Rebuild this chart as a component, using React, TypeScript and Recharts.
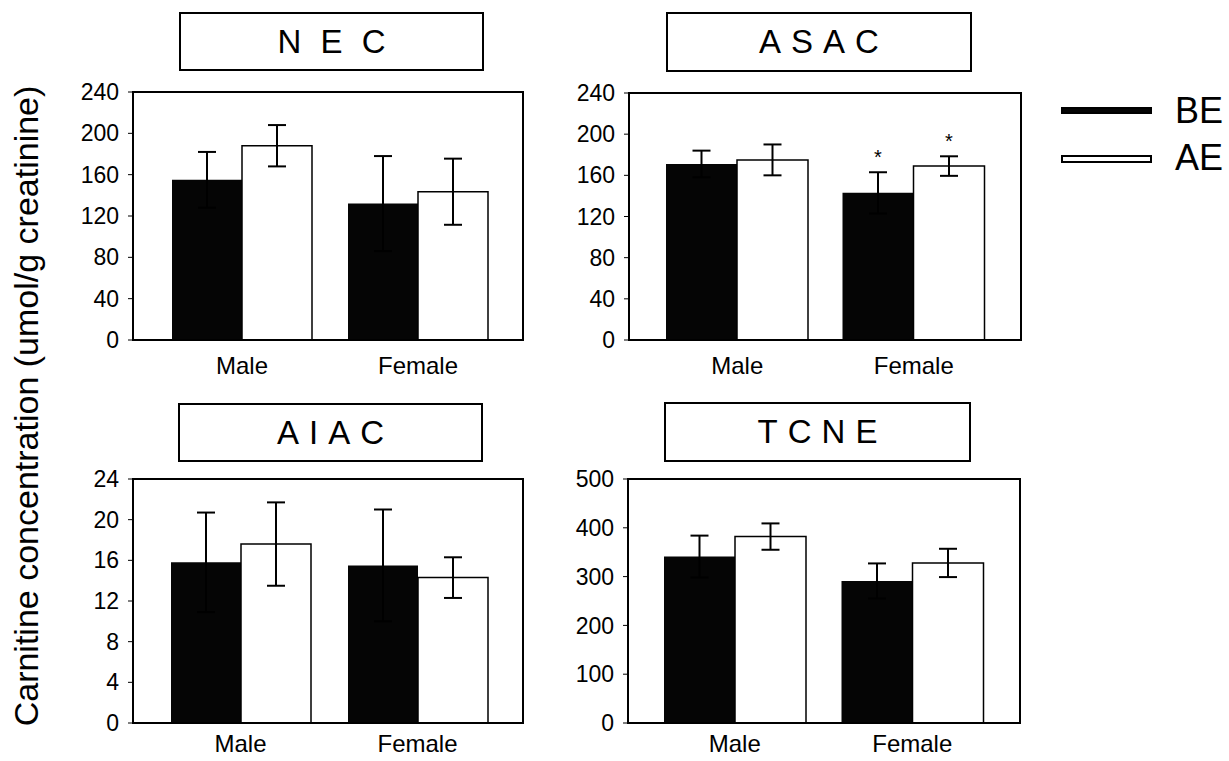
import { Bar, BarChart, ErrorBar, XAxis, YAxis } from "recharts";

const categories = ["Male", "Female"];
const seriesNames = ["BE", "AE"];
const yLabel = "Carnitine concentration (umol/g creatinine)";

// NEC
const necBE = [155, 132];
const necBEErr = [27, 46];
const necAE = [188, 143.5];
const necAEErr = [20, 32];

// ASAC
const asacBE = [171, 143];
const asacBEErr = [13, 20];
const asacAE = [175, 169];
const asacAEErr = [15, 9.5];
const asacStarBE = ["", "*"];
const asacStarAE = ["", "*"];

// AIAC
const aiacBE = [15.8, 15.5];
const aiacBEErr = [4.9, 5.5];
const aiacAE = [17.6, 14.3];
const aiacAEErr = [4.1, 2];

// TCNE
const tcneBE = [341, 291];
const tcneBEErr = [43, 36];
const tcneAE = [382, 328];
const tcneAEErr = [27, 29];

const ticks240 = [0, 40, 80, 120, 160, 200, 240];
const ticks24 = [0, 4, 8, 12, 16, 20, 24];
const ticks500 = [0, 100, 200, 300, 400, 500];

const FONT = "'Liberation Sans', Arial, Helvetica, sans-serif";

type PanelProps = {
  title: string;
  spacing: number;
  be: number[];
  beErr: number[];
  ae: number[];
  aeErr: number[];
  starBE?: string[];
  starAE?: string[];
  ticks: number[];
  box: [number, number, number, number];
  titleBox: [number, number, number, number];
  padL: number;
  padR: number;
  barSize: number;
  xMargin: number;
};

function starLabel(flags: string[] | undefined, errs: number[]) {
  return (props: any) => {
    const { x, y, width, height, value, index } = props;
    if (!flags || !flags[index]) return null;
    const errPx = (errs[index] * height) / value;
    return (
      <text
        x={x + width / 2}
        y={y - errPx - 8}
        textAnchor="middle"
        fontSize={20}
        fontFamily={FONT}
        fill="#000"
      >
        {flags[index]}
      </text>
    );
  };
}

function Panel(p: PanelProps) {
  const [x0, y0, x1, y1] = p.box;
  const w = x1 - x0;
  const h = y1 - y0;
  const data = categories.map((c, i) => ({
    cat: c,
    be: p.be[i],
    beErr: p.beErr[i],
    ae: p.ae[i],
    aeErr: p.aeErr[i],
  }));
  const [tx0, ty0, tx1, ty1] = p.titleBox;
  const axisStyle = { stroke: "#000", strokeWidth: 2 };
  return (
    <>
      <div
        style={{
          position: "absolute",
          left: tx0,
          top: ty0,
          width: tx1 - tx0,
          height: ty1 - ty0,
          boxSizing: "border-box",
          border: "2px solid #000",
          display: "flex",
          alignItems: "center",
          justifyContent: "center",
          fontFamily: FONT,
          fontSize: 33,
          letterSpacing: p.spacing,
          paddingLeft: p.spacing,
          color: "#000",
        }}
      >
        {p.title}
      </div>
      <div style={{ position: "absolute", left: x0 - 70, top: y0 - 20 }}>
        <BarChart
          width={w + 80}
          height={h + 70}
          data={data}
          margin={{ top: 20, right: 10, bottom: 0, left: 0 }}
          barGap={0}
          barSize={p.barSize}
        >
          <XAxis
            dataKey="cat"
            height={50}
            padding={{ left: p.padL, right: p.padR }}
            axisLine={axisStyle}
            tickLine={false}
            tickSize={0}
            tickMargin={p.xMargin}
            tick={{ fill: "#000", fontSize: 24, fontFamily: FONT }}
            interval={0}
          />
          <YAxis
            width={70}
            domain={[p.ticks[0], p.ticks[p.ticks.length - 1]]}
            ticks={p.ticks}
            interval={0}
            axisLine={axisStyle}
            tickLine={{ stroke: "#000", strokeWidth: 1 }}
            tickSize={5}
            tickMargin={9}
            tick={{ fill: "#000", fontSize: 23, fontFamily: FONT }}
          />
          <Bar
            dataKey="be"
            fill="#050505"
            isAnimationActive={false}
            label={starLabel(p.starBE, p.beErr)}
          >
            <ErrorBar
              dataKey="beErr"
              width={9}
              stroke="#000"
              strokeWidth={2}
              isAnimationActive={false}
            />
          </Bar>
          <Bar
            dataKey="ae"
            fill="#fff"
            stroke="#000"
            strokeWidth={1.5}
            isAnimationActive={false}
            label={starLabel(p.starAE, p.aeErr)}
          >
            <ErrorBar
              dataKey="aeErr"
              width={9}
              stroke="#000"
              strokeWidth={2}
              isAnimationActive={false}
            />
          </Bar>
        </BarChart>
      </div>
      {/* plot-area frame */}
      <div
        style={{
          position: "absolute",
          left: x0 - 1,
          top: y0 - 1,
          width: w + 2,
          height: h + 2,
          boxSizing: "border-box",
          border: "2px solid #000",
          pointerEvents: "none",
        }}
      />
    </>
  );
}

export default function App() {
  return (
    <div
      style={{
        position: "absolute",
        left: 0,
        top: 0,
        width: 1229,
        height: 761,
        background: "#fff",
        overflow: "hidden",
      }}
    >
      <svg
        width={60}
        height={761}
        style={{ position: "absolute", left: 0, top: 0 }}
      >
        <text
          transform="translate(38,406) rotate(-90)"
          textAnchor="middle"
          fontSize={34}
          fontFamily={FONT}
          fill="#000"
        >
          {yLabel}
        </text>
      </svg>

      <Panel
        title="N E C"
        spacing={5}
        be={necBE}
        beErr={necBEErr}
        ae={necAE}
        aeErr={necAEErr}
        ticks={ticks240}
        box={[133, 92, 523, 340]}
        titleBox={[179, 12, 484, 71]}
        padL={21}
        padR={17}
        barSize={70}
        xMargin={17}
      />
      <Panel
        title="ASAC"
        spacing={10}
        be={asacBE}
        beErr={asacBEErr}
        ae={asacAE}
        aeErr={asacAEErr}
        starBE={asacStarBE}
        starAE={asacStarAE}
        ticks={ticks240}
        box={[629, 93, 1021, 340]}
        titleBox={[666, 12, 972, 72]}
        padL={20}
        padR={19}
        barSize={71}
        xMargin={17}
      />
      <Panel
        title="AIAC"
        spacing={10}
        be={aiacBE}
        beErr={aiacBEErr}
        ae={aiacAE}
        aeErr={aiacAEErr}
        ticks={ticks24}
        box={[133, 479, 523, 723]}
        titleBox={[178, 403, 483, 462]}
        padL={19}
        padR={17}
        barSize={70}
        xMargin={12}
      />
      <Panel
        title="TCNE"
        spacing={10}
        be={tcneBE}
        beErr={tcneBEErr}
        ae={tcneAE}
        aeErr={tcneAEErr}
        ticks={ticks500}
        box={[628, 479, 1020, 723]}
        titleBox={[664, 402, 971, 462]}
        padL={18}
        padR={19}
        barSize={71}
        xMargin={12}
      />

      {/* legend */}
      {seriesNames.map((name, i) => (
        <div key={name}>
          <div
            style={{
              position: "absolute",
              left: 1061,
              top: i === 0 ? 107 : 155,
              width: 91,
              height: i === 0 ? 7 : 8,
              boxSizing: "border-box",
              background: i === 0 ? "#050505" : "#fff",
              border: "2px solid #000",
            }}
          />
          <div
            style={{
              position: "absolute",
              left: 1175,
              top: i === 0 ? 90 : 137,
              fontFamily: FONT,
              fontSize: 36,
              lineHeight: "42px",
              color: "#000",
            }}
          >
            {name}
          </div>
        </div>
      ))}
    </div>
  );
}
